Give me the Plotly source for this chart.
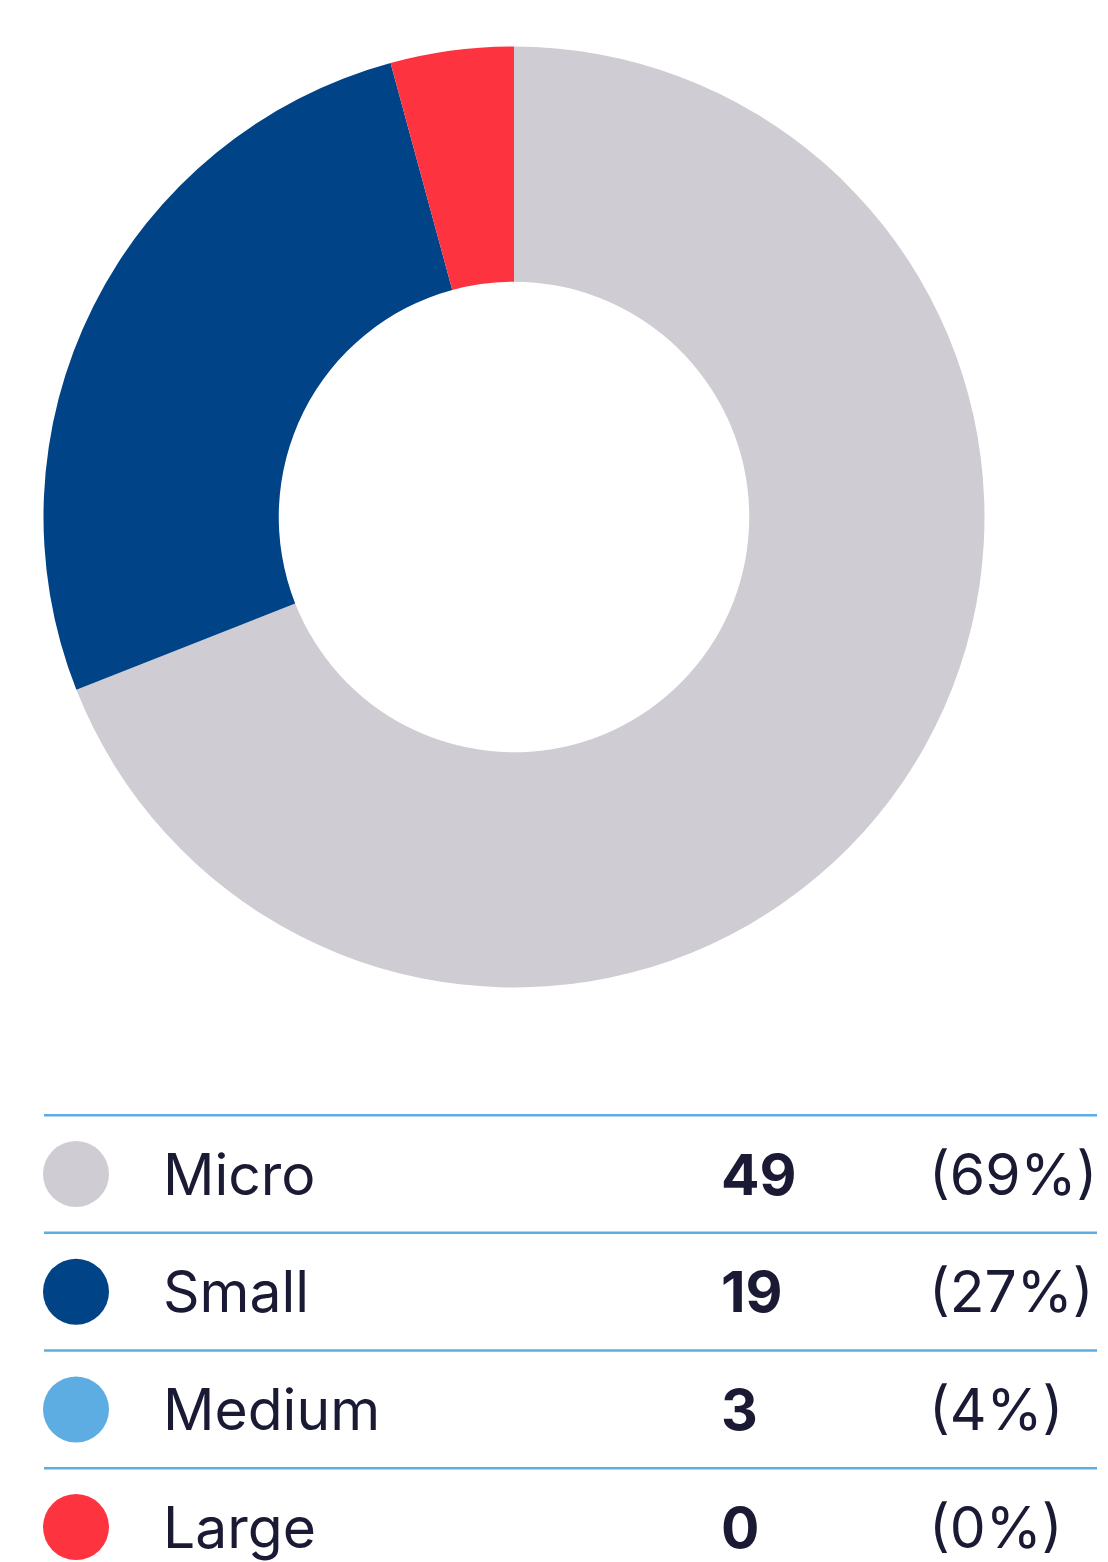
import plotly.graph_objects as go

# ---- data ----
categories = ["Micro", "Small", "Medium", "Large"]
counts = [49, 19, 3, 0]
percent_labels = ["(69%)", "(27%)", "(4%)", "(0%)"]
pie_colors = ["#CFCCD3", "#004387", "#FD3340", "#FD3340"]
legend_colors = ["#CFCCD3", "#004387", "#5DADE2", "#FD3340"]

# page body has an 8px margin; figure is drawn in its own coordinates
OFF = 8
W, H = 1108 - OFF, 1562 - OFF
TEXT = "#1B1A35"
LINE = "#5DADE2"
FONT = "Inter"
FS = 57

fig = go.Figure()

# donut: page center (514,517), radius ~470.5
cx, cy, r = 514 - OFF, 517 - OFF, 470.5
fig.add_trace(go.Pie(
    labels=categories, values=counts, sort=False, direction="clockwise",
    rotation=0, hole=0.5, marker=dict(colors=pie_colors, line=dict(width=0)),
    textinfo="none", hoverinfo="label+value", showlegend=False,
    domain=dict(x=[(cx - r) / W, (cx + r) / W], y=[1 - (cy + r) / H, 1 - (cy - r) / H]),
))

# table rows in row units on y axis
row0, step = 1174 - OFF, 117.7
y_top = -row0 / step
y_bot = (H - row0) / step
rows = list(range(len(categories)))

fig.add_trace(go.Scatter(
    x=[76 - OFF] * len(categories), y=rows, mode="markers",
    marker=dict(size=66, color=legend_colors, line=dict(width=0)),
    hoverinfo="skip", showlegend=False,
))

for i, (cat, n, p) in enumerate(zip(categories, counts, percent_labels)):
    fig.add_shape(type="line", xref="x", yref="y", x0=44 - OFF, x1=1097 - OFF,
                  y0=i - 0.5, y1=i - 0.5, line=dict(color=LINE, width=2.5))
    fig.add_annotation(x=153, y=i, xref="x", yref="y", text=cat, showarrow=False,
                       xanchor="left", yanchor="middle",
                       font=dict(family=FONT, size=FS, color=TEXT))
    fig.add_annotation(x=711, y=i, xref="x", yref="y", text=f"<b>{n}</b>", showarrow=False,
                       xanchor="left", yanchor="middle",
                       font=dict(family=FONT, size=FS, color=TEXT))
    fig.add_annotation(x=919, y=i, xref="x", yref="y", text=p, showarrow=False,
                       xanchor="left", yanchor="middle",
                       font=dict(family=FONT, size=FS, color=TEXT))

fig.update_layout(
    width=W, height=H, margin=dict(l=0, r=0, t=0, b=0),
    paper_bgcolor="white", plot_bgcolor="rgba(0,0,0,0)",
    xaxis=dict(range=[0, W], visible=False, fixedrange=True),
    yaxis=dict(range=[y_bot, y_top], visible=False, fixedrange=True),
)

fig.write_html("out.html")
